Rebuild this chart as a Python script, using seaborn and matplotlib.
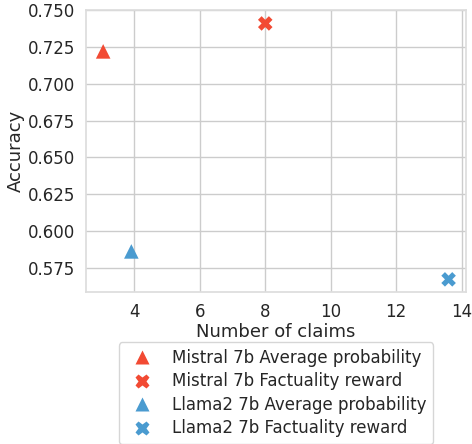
import matplotlib
matplotlib.use("Agg")
import matplotlib.pyplot as plt
import seaborn as sns
import pandas as pd

labels = ["Mistral 7b Average probability", "Mistral 7b Factuality reward",
          "Llama2 7b Average probability", "Llama2 7b Factuality reward"]
num_claims = [3.05, 8.0, 3.91, 13.6]
accuracy = [0.722, 0.741, 0.586, 0.567]
colors = ["#f24a33", "#f24a33", "#4a9bd0", "#4a9bd0"]
markers = ["^", "X", "^", "X"]

sns.set_theme(style="whitegrid", font_scale=1.0)
plt.rcParams['font.family'] = ['DejaVu Sans']

df = pd.DataFrame({"Number of claims": num_claims, "Accuracy": accuracy, "label": labels})

fig = plt.figure(figsize=(4.72, 4.44), dpi=100)
ax = fig.add_axes([0.182, 0.342, 0.805, 0.635])
sns.scatterplot(data=df, x="Number of claims", y="Accuracy", hue="label", style="label",
                palette=dict(zip(labels, colors)), markers=dict(zip(labels, markers)),
                s=110, edgecolor="none", ax=ax, hue_order=labels, style_order=labels)
ax.set_xticks([4, 6, 8, 10, 12, 14])
ax.set_yticks([0.575, 0.600, 0.625, 0.650, 0.675, 0.700, 0.725, 0.750])
ax.tick_params(labelsize=12, pad=2)
ax.set_xlabel("Number of claims", fontsize=13, labelpad=1)
ax.set_ylabel("Accuracy", fontsize=13, labelpad=2)
leg = ax.legend(loc="upper center", bbox_to_anchor=(0.5, -0.148), fontsize=12,
                frameon=True, handletextpad=0.8, borderpad=0.4, labelspacing=0.33)
for spine in ax.spines.values():
    spine.set_color("#dddddd")
fig.savefig("out.png", dpi=100)
